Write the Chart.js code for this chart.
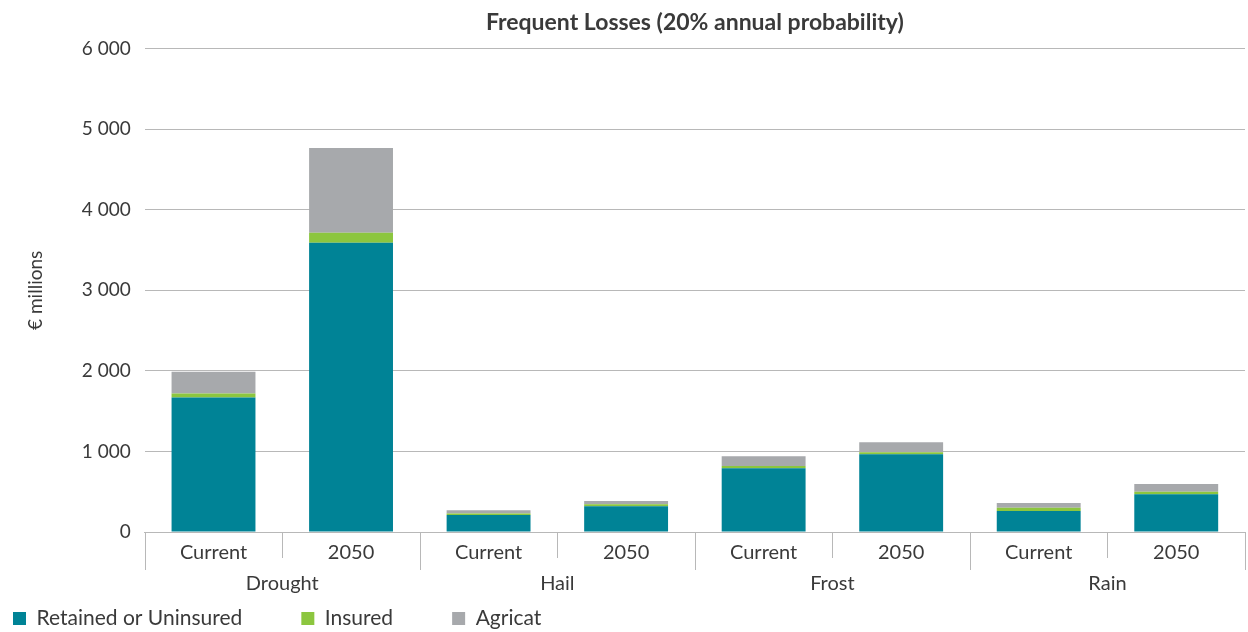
<!DOCTYPE html>
<html>
<head>
<meta charset="utf-8">
<script src="https://cdn.jsdelivr.net/npm/chart.js@4"></script>
<style>
  html, body { margin: 0; padding: 0; background: #fff; }
  #wrap { width: 1248px; height: 632px; }
</style>
</head>
<body>
<div id="wrap"><canvas id="myChart" width="1248" height="632"></canvas></div>
<script>
const hazards = ['Drought', 'Hail', 'Frost', 'Rain'];
const periods = ['Current', '2050'];

// values in € millions, one per bar (Drought Current, Drought 2050, Hail Current, ...)
const retained = [1670, 3590, 210, 320, 790, 965, 260, 470];
const insured = [50, 125, 20, 25, 30, 25, 40, 30];
const agricat = [270, 1050, 40, 40, 120, 125, 60, 95];

const yTicks = [0, 1000, 2000, 3000, 4000, 5000, 6000];

const labels = hazards.flatMap(() => periods);
const textColor = '#3a3a3a';
const lineColor = '#b8b8b8';
const fontFamily = 'Lato, "Noto Sans", sans-serif';

Chart.defaults.font.family = fontFamily;
Chart.defaults.color = textColor;

// two-level category axis: separators, period labels, hazard names
const groupAxis = {
  id: 'groupAxis',
  afterDraw(chart) {
    const ctx = chart.ctx;
    const x = chart.scales.x;
    const y0 = chart.scales.y.getPixelForValue(0);
    const step = x.getPixelForValue(1) - x.getPixelForValue(0);
    ctx.save();
    ctx.strokeStyle = lineColor;
    ctx.lineWidth = 1;
    for (let k = 0; k <= labels.length; k++) {
      const px = Math.round(x.getPixelForValue(0) - step / 2 + k * step) + 0.5;
      const len = k % periods.length == 0 ? 38 : 26;
      ctx.beginPath();
      ctx.moveTo(px, y0);
      ctx.lineTo(px, y0 + len);
      ctx.stroke();
    }
    ctx.fillStyle = textColor;
    ctx.font = '20px ' + fontFamily;
    ctx.textAlign = 'center';
    ctx.textBaseline = 'middle';
    labels.forEach((p, i) => {
      ctx.fillText(p, x.getPixelForValue(i), y0 + 21);
    });
    hazards.forEach((h, g) => {
      const a = x.getPixelForValue(g * periods.length);
      const b = x.getPixelForValue(g * periods.length + periods.length - 1);
      ctx.fillText(h, (a + b) / 2, y0 + 52);
    });
    ctx.restore();
  }
};

const ctx = document.getElementById('myChart').getContext('2d');
const myChart = new Chart(ctx, {
  type: 'bar',
  data: {
    labels: labels,
    datasets: [
      { label: 'Retained or Uninsured', data: retained, backgroundColor: '#008396' },
      { label: 'Insured', data: insured, backgroundColor: '#8cc63f' },
      { label: 'Agricat', data: agricat, backgroundColor: '#a7a9ac' }
    ]
  },
  options: {
    responsive: false,
    animation: false,
    categoryPercentage: 1,
    barPercentage: 0.61,
    // negative left padding: the legend starts at padding.left + labels.padding
    layout: { padding: { left: -46, right: 3, top: 6, bottom: -7 } },
    plugins: {
      title: {
        display: true,
        text: 'Frequent Losses (20% annual probability)',
        fullSize: false,
        color: textColor,
        font: { size: 23, weight: 'bold' },
        padding: { top: 3, bottom: 12 }
      },
      legend: {
        position: 'bottom',
        align: 'start',
        labels: {
          boxWidth: 13,
          boxHeight: 13,
          padding: 59,
          color: textColor,
          font: { size: 21 }
        }
      },
      tooltip: { enabled: false }
    },
    scales: {
      x: {
        stacked: true,
        grid: { display: false },
        border: { display: true, color: lineColor },
        ticks: { display: false },
        afterFit: (scale) => { scale.height = 17; }
      },
      y: {
        stacked: true,
        min: yTicks[0],
        max: yTicks[yTicks.length - 1],
        afterBuildTicks: (scale) => { scale.ticks = yTicks.map(v => ({ value: v })); },
        grid: { color: lineColor, drawTicks: false },
        border: { display: false },
        ticks: {
          padding: 14,
          color: textColor,
          font: { size: 19 },
          callback: (v) => String(v).replace(/\B(?=(\d{3})+(?!\d))/g, ' ')
        },
        title: {
          display: true,
          text: '€ millions',
          color: textColor,
          font: { size: 19 },
          padding: { top: 70, bottom: 21 }
        }
      }
    }
  },
  plugins: [groupAxis]
});
</script>
</body>
</html>
